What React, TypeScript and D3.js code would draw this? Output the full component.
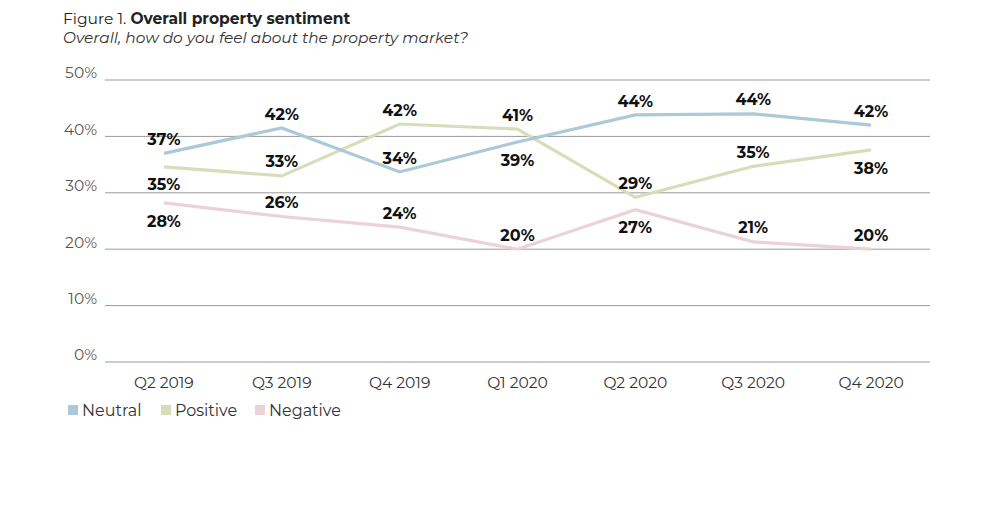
import { useEffect, useRef } from 'react';
import * as d3 from 'd3';

const quarters = ['Q2 2019', 'Q3 2019', 'Q4 2019', 'Q1 2020', 'Q2 2020', 'Q3 2020', 'Q4 2020'];
const neutral = [37, 41.5, 33.7, 39, 43.8, 44, 42];
const positive = [34.6, 33, 42.2, 41.3, 29.2, 34.7, 37.6];
const negative = [28.2, 25.8, 23.9, 20, 27, 21.3, 20];
// where each value label sits relative to its point
const neutralPlace = ['a', 'a', 'a', 'b', 'a', 'a', 'a'];
const positivePlace = ['b', 'a', 'a', 'a', 'a', 'a', 'b'];
const negativePlace = ['b', 'a', 'a', 'a', 'b', 'a', 'a'];
const yTicks = [0, 10, 20, 30, 40, 50];

const series = [
  { name: 'Negative', values: negative, place: negativePlace, color: '#ebd2d8' },
  { name: 'Positive', values: positive, place: positivePlace, color: '#d5deb8' },
  { name: 'Neutral', values: neutral, place: neutralPlace, color: '#abc9d9' },
];
const legend = ['Neutral', 'Positive', 'Negative'];

const font = "Montserrat, 'Open Sans', 'DejaVu Sans', sans-serif";

const App: React.FC = () => {
  const ref = useRef<SVGSVGElement>(null);

  useEffect(() => {
    const svg = d3.select(ref.current);
    svg.selectAll('*').remove();

    const x = d3.scalePoint<string>().domain(quarters).range([105, 930]).padding(0.5);
    const y = d3.scaleLinear().domain([0, 50]).range([362, 80]);

    // title
    const title = svg.append('text').attr('x', 63).attr('y', 24)
      .style('font-family', font).style('font-size', '15.5px').attr('fill', '#222');
    title.append('tspan').text('Figure 1. ');
    title.append('tspan').attr('font-weight', 'bold').text('Overall property sentiment');
    svg.append('text').attr('x', 63).attr('y', 43)
      .style('font-family', font).style('font-size', '15.4px').style('font-style', 'italic')
      .attr('fill', '#333').text('Overall, how do you feel about the property market?');

    // grid + y labels
    const g = svg.append('g');
    g.selectAll('line.grid').data(yTicks).enter().append('line')
      .attr('x1', 105).attr('x2', 930)
      .attr('y1', d => y(d)).attr('y2', d => y(d))
      .attr('stroke', '#9a9a9a').attr('stroke-width', 1);
    g.selectAll('text.ytick').data(yTicks).enter().append('text')
      .attr('x', 97).attr('y', d => y(d)).attr('dy', '-0.1em')
      .attr('text-anchor', 'end')
      .style('font-family', font).style('font-size', '15.5px').attr('fill', '#555')
      .text(d => `${d}%`);

    // x labels
    g.selectAll('text.xtick').data(quarters).enter().append('text')
      .attr('x', d => x(d)!).attr('y', 388)
      .attr('text-anchor', 'middle')
      .style('font-family', font).style('font-size', '15.5px').attr('fill', '#333')
      .text(d => d);

    const line = d3.line<number>()
      .x((_, i) => x(quarters[i])!)
      .y(d => y(d));

    series.forEach(s => {
      svg.append('path').datum(s.values)
        .attr('d', line)
        .attr('fill', 'none')
        .attr('stroke', s.color)
        .attr('stroke-width', 3.2);
    });

    series.forEach(s => {
      svg.append('g').selectAll('text').data(s.values).enter().append('text')
        .attr('x', (_, i) => x(quarters[i])!)
        .attr('y', (d, i) => y(d) + (s.place[i] === 'a' ? -14 : 18))
        .attr('dy', '0.35em')
        .attr('text-anchor', 'middle')
        .style('font-family', font).style('font-size', '16px').attr('font-weight', 'bold')
        .attr('fill', '#111')
        .text(d => `${Math.round(d)}%`);
    });

    // legend
    const colorOf = (n: string) => series.find(s => s.name === n)!.color;
    const lx = [68, 161, 255];
    const lg = svg.append('g');
    legend.forEach((n, i) => {
      lg.append('rect').attr('x', lx[i]).attr('y', 405).attr('width', 10).attr('height', 10)
        .attr('fill', colorOf(n));
      lg.append('text').attr('x', lx[i] + 14).attr('y', 416)
        .style('font-family', font).style('font-size', '16px').attr('fill', '#333')
        .text(n);
    });
  }, []);

  return (
    <svg ref={ref} width={1000} height={523}
      style={{ position: 'absolute', left: 0, top: 0, background: '#fff' }} />
  );
};

export default App;
